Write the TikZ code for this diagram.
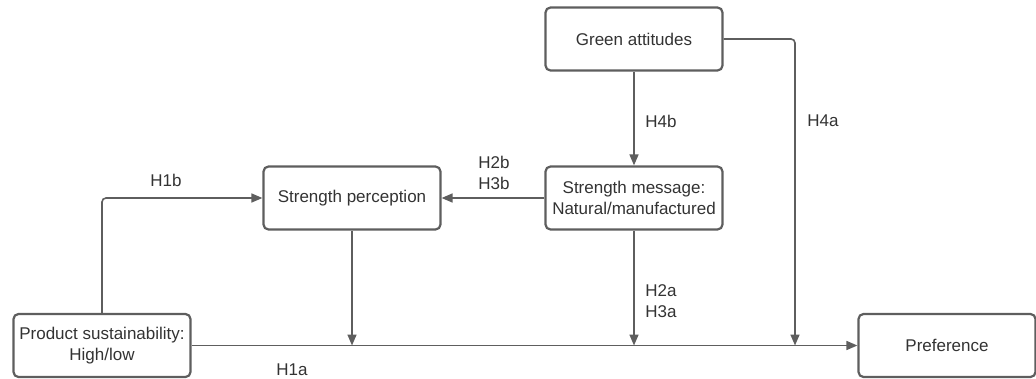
\documentclass[tikz,border=0pt]{standalone}
\usepackage{fontspec}
\setmainfont{Liberation Sans}
\usepackage{xcolor}
\usetikzlibrary{positioning,arrows.meta}
\definecolor{ink}{HTML}{333333}
\definecolor{wire}{HTML}{5E5E5E}

\tikzset{
  varbox/.style={draw=wire, line width=2.2pt, rounded corners=5pt, fill=white,
                 minimum width=177pt, minimum height=63pt, inner sep=2pt,
                 align=center, text=ink, font=\fontsize{17}{21.5}\selectfont},
  link/.style={draw=wire, line width=1.6pt, -{Triangle[length=11pt,width=9pt]}},
  hyp/.style={text=ink, align=left, inner sep=0pt, font=\fontsize{17}{21.5}\selectfont}
}

\begin{document}
\begin{tikzpicture}[x=1pt,y=1pt]
  \useasboundingbox (0,0) rectangle (1036,378);

  % variables
  \node[varbox] (green) at (634,339) {Green attitudes};
  \node[varbox] (message) at (634,180) {Strength message:\\Natural/manufactured};
  \node[varbox] (perception) at (352,180) {Strength perception};
  \node[varbox] (product) at (102,32.5) {Product sustainability:\\High/low};
  \node[varbox] (pref) at (947,32.5) {Preference};

  % junctions on the main path
  \coordinate (jA) at (352,32.5);
  \coordinate (jB) at (634,32.5);
  \coordinate (jC) at (795,32.5);

  % connectors
  \draw[link] (product.east) -- (pref.west);
  \draw[link, rounded corners=4pt] (product.north) |- (perception.west);
  \draw[link] (message.west) -- (perception.east);
  \draw[link] (green.south) -- (message.north);
  \draw[link] (perception.south) -- (jA);
  \draw[link] (message.south) -- (jB);
  \draw[link, rounded corners=4pt] (green.east) -| (jC);

  % hypotheses
  \node[hyp] (h1b) at (166,198) {H1b};
  \node[hyp] (h1a) at (292,8) {H1a};
  \node[hyp] (h23b) at (494,205) {H2b\\H3b};
  \node[hyp] (h4b) at (661,257) {H4b};
  \node[hyp] (h4a) at (823,257) {H4a};
  \node[hyp] (h23a) at (661,77) {H2a\\H3a};
\end{tikzpicture}
\end{document}
